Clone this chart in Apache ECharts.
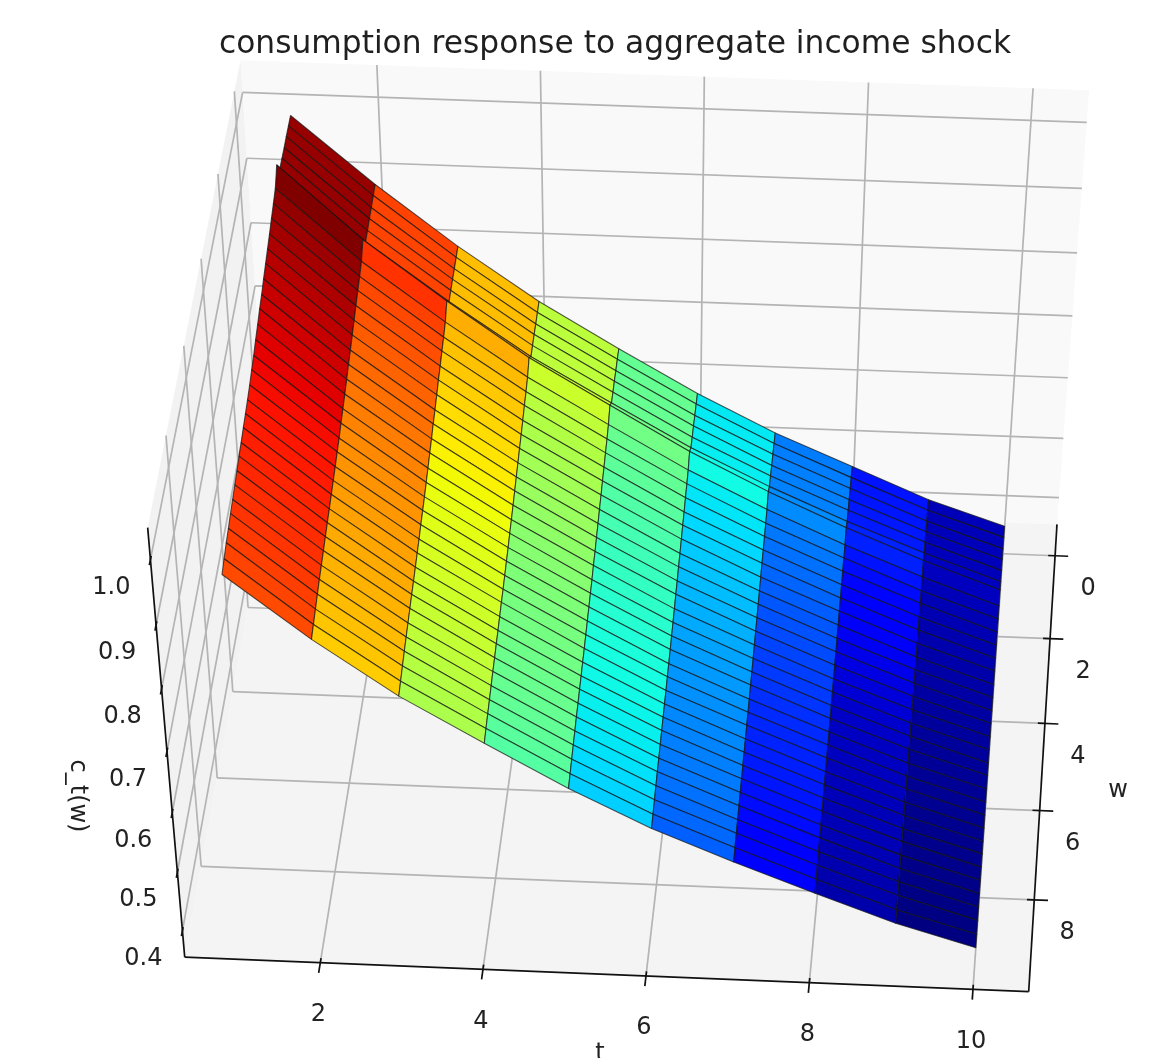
<!DOCTYPE html>
<html><head><meta charset="utf-8">
<style>html,body{margin:0;padding:0;background:#fff}#c{width:1151px;height:1058px}</style>
<script src="https://cdn.jsdelivr.net/npm/echarts@6/dist/echarts.min.js"></script>
</head><body><div id="c"></div>
<script>
// ---- data ----
const titleText = 'consumption response to aggregate income shock';
const tValues = [1,2,3,4,5,6,7,8,9,10];
const wValues = [0,.27,.55,.82,1.09,1.36,1.64,1.91,2.18,2.45,2.73,3,3.27,3.55,3.82,4.09,4.36,4.64,4.91,5.18,5.45,5.73,6,6.27,6.55,6.82,7.09,7.36,7.64,7.91,8.18,8.45,8.73,9];
const c_t1 = [1.015,1.016,1.017,1.017,1.018,1.019,1.042,1.024,1.018,1.013,1.007,1.002,.997,.992,.986,.982,.976,.971,.965,.961,.956,.952,.949,.946,.942,.940,.936,.933,.930,.927,.923,.920,.915,.910];
const c_t2 = [.915,.915,.914,.914,.913,.913,.934,.918,.912,.908,.903,.898,.893,.888,.884,.879,.874,.870,.866,.861,.858,.854,.851,.848,.845,.842,.839,.836,.833,.830,.826,.822,.818,.814];
const c_t3 = [.824,.824,.824,.825,.825,.825,.844,.829,.823,.819,.814,.810,.805,.800,.796,.791,.787,.782,.778,.774,.771,.768,.764,.761,.758,.755,.753,.750,.747,.744,.741,.737,.733,.729];
const c_t4 = [.742,.742,.742,.743,.743,.743,.760,.747,.742,.738,.733,.729,.725,.721,.717,.713,.709,.705,.702,.698,.695,.692,.689,.687,.684,.681,.679,.676,.674,.671,.668,.665,.662,.658];
const c_t5 = [.671,.672,.672,.673,.673,.674,.689,.676,.671,.667,.663,.659,.655,.651,.647,.643,.639,.636,.632,.629,.626,.623,.620,.617,.615,.612,.610,.607,.605,.602,.599,.596,.593,.589];
const c_t6 = [.603,.604,.604,.605,.605,.606,.619,.607,.603,.599,.595,.592,.588,.584,.581,.577,.574,.570,.567,.564,.561,.558,.556,.553,.551,.549,.547,.544,.542,.540,.537,.534,.531,.528];
const c_t7 = [.543,.544,.545,.545,.546,.547,.558,.547,.543,.540,.537,.534,.530,.527,.524,.521,.518,.515,.512,.509,.507,.504,.502,.500,.498,.496,.494,.492,.490,.488,.485,.483,.480,.477];
const c_t8 = [.492,.492,.493,.493,.494,.494,.503,.493,.490,.487,.484,.481,.478,.475,.472,.469,.466,.463,.461,.458,.456,.454,.452,.450,.448,.446,.444,.442,.440,.439,.436,.434,.432,.429];
const c_t9 = [.441,.442,.443,.444,.445,.446,.453,.444,.440,.438,.435,.432,.429,.426,.424,.421,.418,.416,.413,.411,.409,.406,.404,.403,.401,.399,.397,.396,.394,.392,.390,.388,.385,.383];
const c_t10 = [.401,.401,.401,.402,.402,.402,.408,.400,.397,.394,.392,.389,.387,.384,.382,.379,.377,.375,.373,.370,.369,.367,.365,.363,.362,.360,.359,.357,.356,.354,.352,.350,.348,.346];
const cRows = [c_t1,c_t2,c_t3,c_t4,c_t5,c_t6,c_t7,c_t8,c_t9,c_t10];
const tTicks = [2,4,6,8,10];
const wTicks = [0,2,4,6,8];
const zTicks = [0.4,0.5,0.6,0.7,0.8,0.9,1.0];
const tLimits = [0.33,10.68];
const wLimits = [-0.77,10.0];
const zLimits = [0.354,1.048];

// ---- camera: where box points fall on the page ([t,w,c] -> [px,py]) ----
const W = 1151, H = 1058;
const [t0,t1]=tLimits,[w0,w1]=wLimits,[z0,z1]=zLimits;
const cameraAnchors = [
  [[t0,w1,z0],[185,958]], [[t1,w1,z0],[1029,991]], [[t1,w0,z0],[1057,526]],
  [[t0,w1,z1],[148,526]], [[t1,w0,z1],[1089,92]],  [[t0,w0,z1],[240,63]],
  [[t1,w0,1.0],[1087,120]], [[t1,w0,0.4],[1060,495]], [[t1,w0,0.7],[1074,313]],
  [[t0,w0,1.0],[242,90]], [[t0,w0,0.7],[255,283]],
  [[t0,w1,0.4],[182,932]], [[t0,w1,0.7],[167,750]], [[t0,w1,1.0],[149,560]],
  [[t0,4,z0],[233,692]], [[t0,8,z0],[202,867]], [[t0,6,z0],[218,778]],
  [[t1,0,z0],[1054,557]], [[t1,2,z0],[1049,639]], [[t1,4,z0],[1043,724]], [[t1,6,z0],[1039,811]], [[t1,8,z0],[1034,900]],
  [[2,w1,z0],[320,960]], [[4,w1,z0],[483,970]], [[6,w1,z0],[647,977]], [[8,w1,z0],[810,983]], [[10,w1,z0],[973,989]],
  [[2,w0,z1],[377,68]], [[10,w0,z1],[1034,90]]
];
const norm3=(t,w,z)=>[(t-t0)/(t1-t0),(w-w0)/(w1-w0),(z-z0)/(z1-z0)];
function solveCamera(anchors){
  const A=[],b=[];
  anchors.forEach(([p,s])=>{
    const [x,y,z]=norm3(p[0],p[1],p[2]),[u,v]=s;
    A.push([x,y,z,1,0,0,0,0,-u*x,-u*y,-u*z]); b.push(u);
    A.push([0,0,0,0,x,y,z,1,-v*x,-v*y,-v*z]); b.push(v);
  });
  const n=11, M=[];
  for(let i=0;i<n;i++){M.push([]);for(let j=0;j<=n;j++){let s=0;for(let k=0;k<A.length;k++)s+=A[k][i]*(j<n?A[k][j]:b[k]);M[i].push(s);}}
  for(let i=0;i<n;i++){
    let p=i;for(let r=i+1;r<n;r++)if(Math.abs(M[r][i])>Math.abs(M[p][i]))p=r;
    [M[i],M[p]]=[M[p],M[i]];
    for(let r=0;r<n;r++){if(r===i)continue;const f=M[r][i]/M[i][i];for(let c=i;c<=n;c++)M[r][c]-=f*M[i][c];}
  }
  return M.map((row,i)=>row[n]/row[i]);
}
const cam = solveCamera(cameraAnchors);
function project(t,w,z){
  const [x,y,c]=norm3(t,w,z);
  const d=cam[8]*x+cam[9]*y+cam[10]*c+1;
  return [(cam[0]*x+cam[1]*y+cam[2]*c+cam[3])/d,(cam[4]*x+cam[5]*y+cam[6]*c+cam[7])/d];
}

// ---- jet colormap, with the calibration that the picture's strips show ----
const colourCalibration=[[0,0],[.11,.06],[.17,.15],[.25,.25],[.43,.46],[.54,.56],[.66,.69],[.81,.83],[1,1]];
function seg(pts,v){for(let i=1;i<pts.length;i++){if(v<=pts[i][0]){const a=pts[i-1],b=pts[i];return a[1]+(b[1]-a[1])*(v-a[0])/(b[0]-a[0]);}}return pts[pts.length-1][1];}
function jet(u){
  const v=seg(colourCalibration,Math.max(0,Math.min(1,u)));
  const r=seg([[0,0],[.35,0],[.66,1],[.89,1],[1,.5]],v);
  const g=seg([[0,0],[.125,0],[.375,1],[.64,1],[.91,0],[1,0]],v);
  const b=seg([[0,.5],[.11,1],[.34,1],[.65,0],[1,0]],v);
  return 'rgb('+Math.round(r*255)+','+Math.round(g*255)+','+Math.round(b*255)+')';
}

// ---- faces: one per (t,w) cell ----
const faces=[];
for(let j=0;j<wValues.length-1;j++)for(let i=0;i<tValues.length-1;i++)faces.push([i,j]);
const faceAvg=([i,j])=>(cRows[i][j]+cRows[i+1][j]+cRows[i][j+1]+cRows[i+1][j+1])/4;
const avgs=faces.map(faceAvg);
const vMin=Math.min(...avgs), vMax=Math.max(...avgs);

// ---- box parts, in data units ----
const panes=[
  {fill:'#f2f2f2',p:[[t0,w0,z0],[t0,w1,z0],[t0,w1,z1],[t0,w0,z1]]},
  {fill:'#f9f9f9',p:[[t0,w0,z0],[t1,w0,z0],[t1,w0,z1],[t0,w0,z1]]},
  {fill:'#f4f4f4',p:[[t0,w0,z0],[t1,w0,z0],[t1,w1,z0],[t0,w1,z0]]}
];
const gridLines=[];
zTicks.forEach(z=>{gridLines.push([[t0,w0,z],[t1,w0,z]]);gridLines.push([[t0,w0,z],[t0,w1,z]]);});
tTicks.forEach(t=>{gridLines.push([[t,w0,z1],[t,w0,z0]]);gridLines.push([[t,w0,z0],[t,w1,z0]]);});
wTicks.forEach(w=>{gridLines.push([[t0,w,z1],[t0,w,z0]]);gridLines.push([[t0,w,z0],[t1,w,z0]]);});
const axisLines=[
  [[t0,w1,z0],[t1,w1,z0]],[[t1,w1,z0],[t1,w0,z0]],[[t0,w1,z0],[t0,w1,z1]]
];
tTicks.forEach(t=>axisLines.push([[t,w1-0.1,z0],[t,w1+0.22,z0]]));
wTicks.forEach(w=>axisLines.push([[t1-0.09,w,z0],[t1+0.17,w,z0]]));
zTicks.forEach(z=>axisLines.push([[t0,w1-0.08,z],[t0,w1+0.12,z]]));

const FONT='DejaVu Sans';
const labels=[];
zTicks.forEach(z=>{const p=project(t0,w1,z);labels.push({text:z.toFixed(1),x:p[0]-39,y:p[1]+28});});
tTicks.forEach(t=>{const p=project(t,w1,z0);labels.push({text:String(t),x:p[0]-2,y:p[1]+52});});
wTicks.forEach(w=>{const p=project(t1,w,z0);labels.push({text:String(w),x:p[0]+33,y:p[1]+33});});
const axisNames=[
  {text:'t',x:600,y:1054,rotation:0},
  {text:'w',x:1118,y:791,rotation:0},
  {text:'c_t(w)',x:77,y:796,rotation:-Math.PI/2}
];
const allText=labels.concat(axisNames);

function poly3(api,pts,style){
  return {type:'polygon',shape:{points:pts.map(p=>api.coord(project(p[0],p[1],p[2])))},style,silent:true};
}
const chart=echarts.init(document.getElementById('c'),null,{renderer:'canvas'});
chart.setOption({
  animation:false,
  backgroundColor:'#ffffff',
  title:{text:titleText,left:610,top:24,textAlign:'center',textStyle:{fontFamily:FONT,fontSize:31.3,fontWeight:'normal',color:'#1f1f1f'}},
  grid:{left:0,right:0,top:0,bottom:0,containLabel:false},
  xAxis:{type:'value',min:0,max:W,show:false},
  yAxis:{type:'value',min:0,max:H,inverse:true,show:false},
  tooltip:{show:false},
  series:[
    {type:'custom',coordinateSystem:'cartesian2d',clip:false,silent:true,data:panes.map((_,i)=>[i]),
     renderItem:(p,api)=>{const c=panes[api.value(0)];return poly3(api,c.p,{fill:c.fill});}},
    {type:'custom',coordinateSystem:'cartesian2d',clip:false,silent:true,data:gridLines.map((_,i)=>[i]),
     renderItem:(p,api)=>{const l=gridLines[api.value(0)];const a=api.coord(project(...l[0])),b=api.coord(project(...l[1]));
       return {type:'line',shape:{x1:a[0],y1:a[1],x2:b[0],y2:b[1]},style:{stroke:'#b4b4b4',lineWidth:1.7,fill:null}};}},
    {type:'custom',coordinateSystem:'cartesian2d',clip:false,silent:true,data:axisLines.map((_,i)=>[i]),
     renderItem:(p,api)=>{const l=axisLines[api.value(0)];const a=api.coord(project(...l[0])),b=api.coord(project(...l[1]));
       return {type:'line',shape:{x1:a[0],y1:a[1],x2:b[0],y2:b[1]},style:{stroke:'#111',lineWidth:1.7,fill:null}};}},
    {type:'custom',coordinateSystem:'cartesian2d',clip:false,silent:true,data:faces,
     renderItem:(p,api)=>{
       const i=api.value(0),j=api.value(1);
       const pts=[[tValues[i],wValues[j],cRows[i][j]],[tValues[i+1],wValues[j],cRows[i+1][j]],[tValues[i+1],wValues[j+1],cRows[i+1][j+1]],[tValues[i],wValues[j+1],cRows[i][j+1]]];
       const v=(faceAvg([i,j])-vMin)/(vMax-vMin);
       return poly3(api,pts,{fill:jet(v),stroke:'rgba(20,20,20,0.7)',lineWidth:1.1,lineJoin:'round'});
     }},
    {type:'custom',coordinateSystem:'cartesian2d',clip:false,silent:true,data:allText.map((_,i)=>[i]),
     renderItem:(p,api)=>{const l=allText[api.value(0)];const c=api.coord([l.x,l.y]);
       return {type:'text',x:c[0],y:c[1],rotation:l.rotation||0,style:{text:l.text,fontFamily:FONT,fontSize:24,fill:'#222',textAlign:'center',textVerticalAlign:'middle'}};}}
  ]
});
</script></body></html>
